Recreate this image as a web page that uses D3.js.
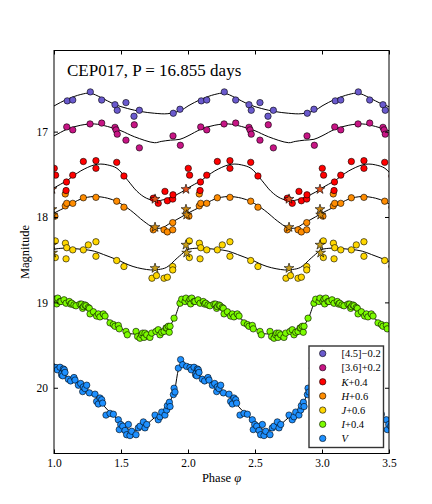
<!DOCTYPE html>
<html><head><meta charset="utf-8">
<script src="https://cdn.jsdelivr.net/npm/d3@7"></script>
<style>
body{margin:0;background:#fff}
svg{display:block}
text{font-family:"Liberation Serif","Times New Roman",serif;fill:#000}
</style>
</head><body>
<svg id="c" width="432" height="504"></svg>
<script>
// ---------------- data (phase in [0,1), plotted magnitude) ----------------
const titleText = "CEP017, P = 16.855 days";
const xTicks = [1.0, 1.5, 2.0, 2.5, 3.0, 3.5];
const yTicks = [17, 18, 19, 20];

const bandNames = ["[4.5]", "[3.6]", "K", "H", "J", "I", "V"];
const bandOffsets = ["\u22120.2", "+0.2", "+0.4", "+0.6", "+0.6", "+0.4", ""];
const bandColors = ["#6A5ACD", "#C71585", "#FF0000", "#FF8C00", "#FFD700", "#7CFC00", "#1E90FF"];
const starColors = {K: "#E4521C", H: "#D08810", J: "#C9A01C"};

const pts45 = [[0.099,16.64],[0.140,16.63],[0.271,16.535],[0.356,16.63],[0.455,16.685],[0.472,16.75],
  [0.537,16.66],[0.597,16.82],[0.637,16.75],[0.890,16.785],[0.940,16.738]];
const pts36 = [[0.095,16.945],[0.140,16.98],[0.269,16.91],[0.356,16.90],[0.455,16.95],[0.463,16.98],
  [0.472,17.03],[0.537,17.10],[0.599,16.92],[0.637,17.19],[0.888,17.05],[0.943,17.16]];
const ptsK = [[0.002,17.43],[0.012,17.51],[0.093,17.59],[0.090,17.69],[0.140,17.51],[0.219,17.35],
  [0.313,17.34],[0.313,17.43],[0.468,17.36],[0.522,17.52],[0.741,17.78],[0.778,17.84],[0.828,17.70],
  [0.846,17.81],[0.888,17.74],[0.886,17.79]];
const ptsH = [[0.007,17.99],[0.084,17.87],[0.095,17.84],[0.084,17.73],[0.140,17.84],[0.219,17.775],
  [0.313,17.77],[0.468,17.815],[0.522,17.885],[0.741,18.15],[0.821,18.15],[0.846,18.175],[0.886,18.15],
  [0.886,18.066]];
const ptsJ = [[0.010,18.28],[0.010,18.475],[0.085,18.307],[0.095,18.36],[0.090,18.49],[0.140,18.385],
  [0.219,18.385],[0.256,18.327],[0.313,18.29],[0.313,18.46],[0.468,18.51],[0.522,18.58],[0.731,18.717],
  [0.765,18.686],[0.821,18.717],[0.846,18.705],[0.886,18.58],[0.886,18.62]];
const ptsI = [[0.015,18.963],[0.020,19.018],[0.045,18.99],[0.075,18.97],[0.090,19.01],[0.114,18.99],
  [0.124,19.02],[0.149,19.03],[0.164,19.04],[0.206,19.02],[0.219,19.05],[0.231,19.03],[0.214,19.07],
  [0.264,19.07],[0.269,19.135],[0.294,19.11],[0.318,19.16],[0.331,19.135],[0.368,19.135],[0.381,19.16],
  [0.418,19.24],[0.443,19.26],[0.480,19.27],[0.487,19.31],[0.537,19.34],[0.547,19.38],[0.612,19.34],
  [0.624,19.40],[0.642,19.42],[0.662,19.36],[0.679,19.36],[0.692,19.38],[0.716,19.41],[0.729,19.36],
  [0.761,19.34],[0.778,19.32],[0.791,19.38],[0.804,19.35],[0.821,19.34],[0.841,19.30],[0.853,19.28],
  [0.860,19.35],[0.896,19.185],[0.940,19.01],[0.953,18.963],[0.985,18.95],[0.028,18.95],[0.052,18.99],
  [0.239,19.04],[0.256,19.06],[0.343,19.17],[0.455,19.28],[0.654,19.38],[0.672,19.41],[0.836,19.30],
  [0.866,19.28],[0.978,18.99],[0.194,19.02],[0.132,19.01],[0.007,18.99]];
const ptsV = [[0.015,19.763],[0.025,19.79],[0.057,19.85],[0.070,19.78],[0.082,19.82],[0.107,19.90],
  [0.124,19.92],[0.149,19.88],[0.157,19.91],[0.182,19.97],[0.199,19.95],[0.214,20.045],[0.219,19.99],
  [0.231,20.01],[0.244,19.97],[0.264,20.06],[0.306,20.075],[0.318,20.16],[0.331,20.19],[0.343,20.12],
  [0.356,20.14],[0.363,20.18],[0.388,20.32],[0.418,20.30],[0.443,20.31],[0.480,20.375],[0.487,20.49],
  [0.498,20.43],[0.513,20.45],[0.530,20.50],[0.542,20.55],[0.555,20.43],[0.567,20.56],[0.580,20.51],
  [0.612,20.55],[0.629,20.47],[0.642,20.45],[0.667,20.40],[0.679,20.47],[0.692,20.43],[0.754,20.32],
  [0.778,20.375],[0.791,20.34],[0.804,20.285],[0.828,20.32],[0.841,20.26],[0.846,20.21],[0.861,20.17],
  [0.866,20.22],[0.891,20.08],[0.903,20.05],[0.896,20.005],[0.928,19.77],[0.945,19.67],[0.960,19.73],
  [0.990,19.75],[0.045,19.76],[0.060,19.83],[0.065,19.86],[0.077,19.79]];

const starsK = [[0.754,17.79],[0.985,17.675]];
const starsH = [[0.754,18.12],[0.985,17.91],[0.990,17.975]];
const starsJ = [[0.754,18.60],[0.985,18.327],[0.990,18.42]];

const tpl45 = [[0,16.70],[0.1,16.62],[0.2,16.565],[0.27,16.55],[0.35,16.60],[0.45,16.68],[0.55,16.73],
  [0.65,16.765],[0.75,16.785],[0.85,16.79],[0.95,16.75]];
const tpl36 = [[0,17.05],[0.1,16.97],[0.2,16.925],[0.3,16.91],[0.4,16.94],[0.5,16.99],[0.6,17.06],
  [0.75,17.13],[0.8,17.115],[0.87,17.10],[0.94,17.09]];
const tplK = [[0,17.66],[0.1,17.57],[0.2,17.46],[0.3,17.39],[0.35,17.38],[0.4,17.39],[0.47,17.43],
  [0.55,17.57],[0.62,17.70],[0.69,17.78],[0.77,17.81],[0.87,17.77],[0.95,17.71]];
const tplH = [[0,17.955],[0.1,17.875],[0.2,17.79],[0.3,17.76],[0.4,17.78],[0.47,17.82],[0.57,17.92],
  [0.67,18.05],[0.74,18.12],[0.8,18.13],[0.87,18.07],[0.95,18.00]];
const tplJ = [[0,18.38],[0.07,18.365],[0.15,18.37],[0.22,18.38],[0.3,18.40],[0.37,18.44],[0.47,18.50],
  [0.59,18.58],[0.72,18.62],[0.78,18.615],[0.84,18.59],[0.92,18.48],[0.98,18.40]];
const tplI = [[0,18.98],[0.1,19.00],[0.2,19.04],[0.3,19.11],[0.4,19.20],[0.5,19.30],[0.55,19.36],
  [0.6,19.37],[0.7,19.37],[0.8,19.34],[0.85,19.30],[0.9,19.18],[0.95,19.00]];
const tplV = [[0,19.77],[0.05,19.81],[0.1,19.87],[0.15,19.91],[0.2,19.97],[0.25,20.02],[0.3,20.09],
  [0.35,20.17],[0.4,20.26],[0.45,20.33],[0.5,20.42],[0.55,20.48],[0.6,20.50],[0.65,20.47],[0.7,20.42],
  [0.75,20.35],[0.8,20.31],[0.85,20.21],[0.9,20.02],[0.93,19.78],[0.96,19.69]];

const bandPoints = [pts45, pts36, ptsK, ptsH, ptsJ, ptsI, ptsV];
const bandTemplates = [tpl45, tpl36, tplK, tplH, tplJ, tplI, tplV];

// ---------------- layout ----------------
const svg = d3.select("#c");
const x = d3.scaleLinear().domain([1, 3.5]).range([54, 389]);
const y = d3.scaleLinear().domain([16.05, 20.77]).range([50.5, 453.5]);

svg.append("defs").append("clipPath").attr("id", "clip")
  .append("rect").attr("x", 54).attr("y", 50.5).attr("width", 335).attr("height", 403);

function repeatPhases(arr, lo, hi) {
  const out = [];
  for (let k = 0; k <= 4; k++) arr.forEach(d => { const p = d[0] + k; if (p >= lo && p <= hi) out.push([p, d[1]]); });
  return out.sort((a, b) => a[0] - b[0]);
}

const plot = svg.append("g").attr("clip-path", "url(#clip)");
const line = d3.line().x(d => x(d[0])).y(d => y(d[1])).curve(d3.curveCatmullRom.alpha(0.5));

// draw from bottom band upwards
for (let i = bandNames.length - 1; i >= 0; i--) {
  plot.append("path").datum(repeatPhases(bandTemplates[i], 0.6, 3.9))
    .attr("d", line).attr("fill", "none").attr("stroke", "#000").attr("stroke-width", 1);
  plot.append("g").selectAll("circle").data(repeatPhases(bandPoints[i], 0.95, 3.55)).join("circle")
    .attr("cx", d => x(d[0])).attr("cy", d => y(d[1])).attr("r", 3.2)
    .attr("fill", bandColors[i]).attr("stroke", "#000").attr("stroke-width", 0.6);
}
const starSym = d3.symbol().type(d3.symbolStar).size(30);
[["J", starsJ], ["H", starsH], ["K", starsK]].forEach(([b, arr]) => {
  plot.append("g").selectAll("path").data(repeatPhases(arr, 0.95, 3.55)).join("path")
    .attr("d", starSym).attr("transform", d => `translate(${x(d[0])},${y(d[1])})`)
    .attr("fill", starColors[b]).attr("stroke", "#000").attr("stroke-width", 0.6);
});

// ---------------- axes ----------------
const fmtX = d3.format(".1f");
const ax = [
  svg.append("g").attr("transform", "translate(0,453.5)")
    .call(d3.axisBottom(x).tickValues(xTicks).tickSize(-4).tickPadding(5).tickFormat(fmtX)),
  svg.append("g").attr("transform", "translate(0,50.5)")
    .call(d3.axisTop(x).tickValues(xTicks).tickSize(-4).tickFormat("")),
  svg.append("g").attr("transform", "translate(54,0)")
    .call(d3.axisLeft(y).tickValues(yTicks).tickSize(-4).tickPadding(6).tickFormat(d3.format("d"))),
  svg.append("g").attr("transform", "translate(389,0)")
    .call(d3.axisRight(y).tickValues(yTicks).tickSize(-4).tickFormat(""))
];
ax.forEach(g => {
  g.select(".domain").remove();
  g.selectAll("text").attr("font-family", "Liberation Serif, serif").attr("font-size", 11.5).attr("fill", "#000");
  g.selectAll("line").attr("stroke", "#000");
});
svg.append("rect").attr("x", 54).attr("y", 50.5).attr("width", 335).attr("height", 403)
  .attr("fill", "none").attr("stroke", "#000").attr("stroke-width", 1);

// ---------------- titles ----------------
svg.append("text").attr("x", 67).attr("y", 76).attr("font-size", 17).text(titleText);
const xl = svg.append("text").attr("x", 221.5).attr("y", 482).attr("text-anchor", "middle").attr("font-size", 12.5);
xl.append("tspan").text("Phase ");
xl.append("tspan").attr("font-style", "italic").text("\u03C6");
svg.append("text").attr("transform", "translate(29,252) rotate(-90)").attr("text-anchor", "middle")
  .attr("font-size", 12.5).text("Magnitude");

// ---------------- legend ----------------
const lg = svg.append("g");
lg.append("rect").attr("x", 309).attr("y", 346).attr("width", 74.5).attr("height", 101.5)
  .attr("fill", "#fff").attr("stroke", "#333").attr("stroke-width", 1.4);
bandNames.forEach((n, i) => {
  const cy = 353.5 + i * 14.15;
  lg.append("circle").attr("cx", 322.7).attr("cy", cy).attr("r", 3.2)
    .attr("fill", bandColors[i]).attr("stroke", "#000").attr("stroke-width", 0.6);
  const t = lg.append("text").attr("x", 341.5).attr("y", cy + 3.8).attr("font-size", 10.5);
  if (n.startsWith("[")) t.append("tspan").text(n);
  else t.append("tspan").attr("font-style", "italic").text(n);
  if (bandOffsets[i]) t.append("tspan").text(bandOffsets[i]);
});
</script>
</body></html>
